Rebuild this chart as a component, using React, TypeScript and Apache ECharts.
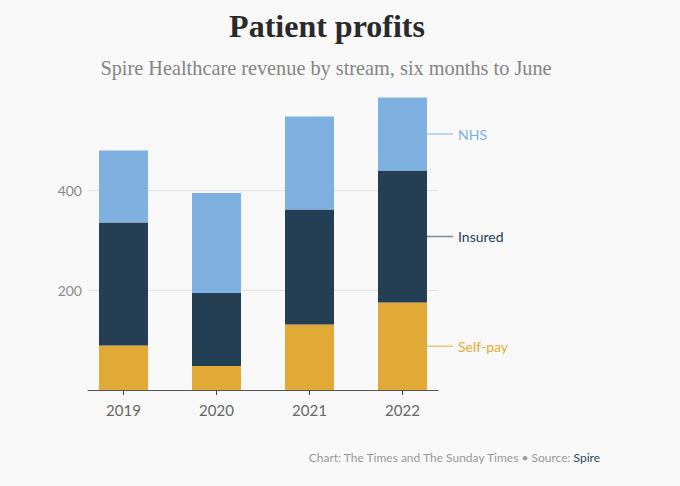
import React, { useEffect, useRef } from "react";
import * as echarts from "echarts";

const years = ["2019", "2020", "2021", "2022"];
const selfPay = [89, 48, 131, 175];
const insured = [246, 146, 230, 264];
const nhs = [144, 200, 186, 146];
const yTicks = [0, 200, 400, 600];

const seriesDefs = [
  { name: "Self-pay", data: selfPay, color: "#e1aa37", text: "#e1aa37", line: "#ecc67a" },
  { name: "Insured", data: insured, color: "#243f53", text: "#243f53", line: "#7f8b96" },
  { name: "NHS", data: nhs, color: "#7eb0e0", text: "#7eb0e0", line: "#a9cbe9" },
];

const FONT = "Lato, 'Open Sans', sans-serif";
const SERIF = "'Liberation Serif', 'DejaVu Serif', serif";

export default function App() {
  const ref = useRef<HTMLDivElement>(null);
  useEffect(() => {
    if (!ref.current) return;
    const chart = echarts.init(ref.current, undefined, { renderer: "svg" });
    const last = years.length - 1;
    const option: any = {
      animation: false,
      backgroundColor: "#f8f8f8",
      grid: [
        { left: 77, width: 372, top: 90, height: 300 },
        { left: 88, width: 350, top: 90, height: 300 },
      ],
      xAxis: [
        {
          type: "category",
          gridIndex: 0,
          data: years,
          axisLine: { show: false },
          axisTick: { show: true, alignWithLabel: true, length: 5, lineStyle: { color: "#444" } },
          axisLabel: { color: "#666", fontSize: 15, fontFamily: FONT, margin: 12 },
        },
        {
          type: "category",
          gridIndex: 1,
          data: years,
          axisLine: { show: true, lineStyle: { color: "#555", width: 1 } },
          axisTick: { show: false },
          axisLabel: { show: false },
        },
      ],
      yAxis: [
        { type: "value", gridIndex: 0, min: 0, max: 600, interval: 200, show: false },
        {
          type: "value",
          gridIndex: 1,
          min: 0,
          max: 600,
          interval: 200,
          axisLine: { show: false },
          axisTick: { show: false },
          axisLabel: {
            color: "#8a8a8a",
            fontSize: 14,
            fontFamily: FONT,
            margin: 6,
            formatter: (v: number) => (v === yTicks[0] || v === yTicks[yTicks.length - 1] ? "" : String(v)),
          },
          splitLine: {
            show: true,
            lineStyle: { color: ["rgba(0,0,0,0)", "#e3e3e3", "#e3e3e3", "rgba(0,0,0,0)"], width: 1 },
          },
        },
      ],
      series: seriesDefs.map((s) => ({
        type: "bar",
        name: s.name,
        stack: "total",
        xAxisIndex: 0,
        yAxisIndex: 0,
        barWidth: 49,
        itemStyle: { color: s.color },
        data: s.data.map((v, i) =>
          i === last
            ? {
                value: v,
                label: {
                  show: true,
                  position: "right",
                  distance: 0,
                  formatter: "{l|}{t|" + s.name + "}",
                  rich: {
                    l: { width: 26, height: 1.5, backgroundColor: s.line },
                    t: { color: s.text, fontSize: 14, fontFamily: FONT, padding: [0, 0, 0, 5] },
                  },
                },
              }
            : v
        ),
      })),
      graphic: [
        {
          type: "text",
          x: 327,
          y: 26,
          style: {
            text: "Patient profits",
            fontFamily: SERIF,
            fontWeight: "bold",
            fontSize: 32,
            fill: "#2a2a2a",
            align: "center",
            verticalAlign: "middle",
          },
        },
        {
          type: "text",
          x: 326,
          y: 68,
          style: {
            text: "Spire Healthcare revenue by stream, six months to June",
            fontFamily: SERIF,
            fontSize: 20.3,
            fill: "#858585",
            align: "center",
            verticalAlign: "middle",
          },
        },
        {
          type: "text",
          x: 600,
          y: 457,
          style: {
            text: "{a|Chart: The Times and The Sunday Times • Source: }{b|Spire}",
            align: "right",
            verticalAlign: "middle",
            rich: {
              a: { fontFamily: FONT, fontSize: 12, fill: "#999" },
              b: { fontFamily: FONT, fontSize: 12, fill: "#2b4a5c" },
            },
          },
        },
      ],
    };
    chart.setOption(option);
    return () => chart.dispose();
  }, []);
  return (
    <div
      ref={ref}
      style={{ position: "fixed", left: 0, top: 0, width: 680, height: 486 }}
    />
  );
}
